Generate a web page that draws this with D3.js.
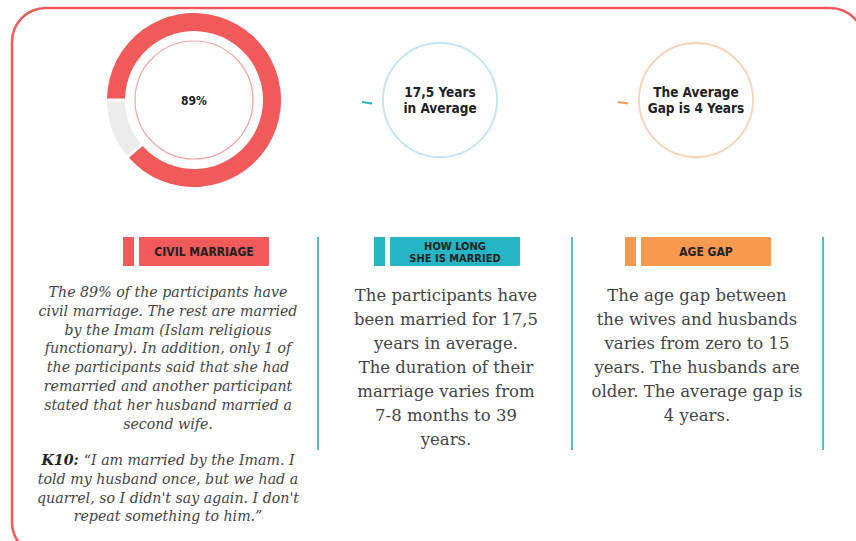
<!DOCTYPE html>
<meta charset="utf-8">
<style>
body { margin: 0; background: #fff; }
.label { font-family: "Liberation Sans Narrow", "DejaVu Sans Condensed", "Roboto", sans-serif; font-weight: bold; fill: #222; font-stretch: condensed; }
.body { font-family: "DejaVu Serif", serif; fill: #444; }
</style>
<svg class="chart" width="856" height="541"></svg>
<script src="https://d3js.org/d3.v7.min.js"></script>
<script>

var svg = d3.select(".chart");

// data
var shares = [89, 11];
var shareColors = ["#f05a5a", "#ebebeb"];
var bubbles = [
  {lines: ["89%"], color: "#f5a3a3"},
  {lines: ["17,5 Years", "in Average"], color: "#bfe6ee", dash: "#2bb3c6"},
  {lines: ["The Average", "Gap is 4 Years"], color: "#f9d2b5", dash: "#f7994f"}
];
var headers = [
  {lines: ["CIVIL MARRIAGE"], color: "#f05a5a"},
  {lines: ["HOW LONG", "SHE IS MARRIED"], color: "#26b5c5"},
  {lines: ["AGE GAP"], color: "#f7994f"}
];
var civilText = [
  "The 89% of the participants have",
  "civil marriage. The rest are married",
  "by the Imam (Islam religious",
  "functionary). In addition, only 1 of",
  "the participants said that she had",
  "remarried and another participant",
  "stated that her husband married a",
  "second wife."
];
var quoteText = [
  "“I am married by the Imam. I",
  "told my husband once, but we had a",
  "quarrel, so I didn't say again. I don't",
  "repeat something to him.”"
];
var durationText = [
  "The participants have",
  "been married for 17,5",
  "years in average.",
  "The duration of their",
  "marriage varies from",
  "7-8 months to 39",
  "years."
];
var gapText = [
  "The age gap between",
  "the wives and husbands",
  "varies from zero to 15",
  "years. The husbands are",
  "older. The average gap is",
  "4 years."
];

// columns
var colX = d3.scaleOrdinal().domain([0, 1, 2]).range([194, 440, 696]);
var headX = d3.scaleOrdinal().domain([0, 1, 2]).range([123, 374, 625]);

// frame
svg.append("rect")
    .attr("x", 12).attr("y", 8)
    .attr("width", 852).attr("height", 548)
    .attr("rx", 34)
    .attr("fill", "none")
    .attr("stroke", "#ef5b5b")
    .attr("stroke-width", 2.5);

// donut
var pie = d3.pie().sort(null).startAngle(-Math.PI / 2).endAngle(Math.PI * 1.5).padAngle(0.025);
var arc = d3.arc().innerRadius(69).outerRadius(87);
svg.append("g")
    .attr("transform", "translate(194,100)")
  .selectAll("path")
  .data(pie(shares))
  .enter().append("path")
    .attr("d", arc)
    .attr("fill", function(d, i) { return shareColors[i]; });

// bubbles
var bub = svg.selectAll(".bubble")
  .data(bubbles)
  .enter().append("g")
    .attr("class", "bubble")
    .attr("transform", function(d, i) { return "translate(" + colX(i) + ",100)"; });

bub.append("circle")
    .attr("r", function(d, i) { return i == 0 ? 59 : 57; })
    .attr("fill", "none")
    .attr("stroke", function(d) { return d.color; })
    .attr("stroke-width", function(d, i) { return i == 0 ? 1.2 : 1.8; });

bub.filter(function(d) { return d.dash; }).append("line")
    .attr("x1", -78).attr("y1", 2)
    .attr("x2", -68).attr("y2", 3.5)
    .attr("stroke", function(d) { return d.dash; })
    .attr("stroke-width", 2);

bub.each(function(d, i) {
  var g = d3.select(this);
  var n = d.lines.length;
  d.lines.forEach(function(t, j) {
    g.append("text")
        .attr("class", "label")
        .attr("text-anchor", "middle")
        .attr("y", (j - (n - 1) / 2) * 16 + 5)
        .style("font-size", i == 0 ? "12px" : "13.5px")
        .text(t);
  });
});

// headers
var hd = svg.selectAll(".header")
  .data(headers)
  .enter().append("g")
    .attr("class", "header")
    .attr("transform", function(d, i) { return "translate(" + headX(i) + ",237)"; });

hd.append("rect").attr("width", 11).attr("height", 29).attr("fill", function(d) { return d.color; });
hd.append("rect").attr("x", 16).attr("width", 130).attr("height", 29).attr("rx", 1)
    .attr("fill", function(d) { return d.color; });
hd.each(function(d) {
  var g = d3.select(this);
  var n = d.lines.length;
  d.lines.forEach(function(t, j) {
    g.append("text")
        .attr("class", "label")
        .attr("text-anchor", "middle")
        .attr("x", 81)
        .attr("y", 19 + (j - (n - 1) / 2) * 12.5)
        .style("font-size", n > 1 ? "11px" : "12px")
        .text(t);
  });
});

// dividers
svg.selectAll(".divider")
  .data([318, 572, 823])
  .enter().append("line")
    .attr("x1", function(d) { return d; }).attr("x2", function(d) { return d; })
    .attr("y1", 237).attr("y2", 450)
    .attr("stroke", "#4fc0cf")
    .attr("stroke-width", 2);

// body text
function block(lines, x, y0, step, size, italic) {
  svg.append("g").selectAll("text")
    .data(lines)
    .enter().append("text")
      .attr("class", "body")
      .attr("text-anchor", "middle")
      .attr("x", x)
      .attr("y", function(d, i) { return y0 + i * step; })
      .style("font-size", size)
      .style("font-style", italic ? "italic" : "normal")
      .text(function(d) { return d; });
}

block(civilText, 168, 297, 18.8, "14.2px", true);
var q = svg.append("g").selectAll("text")
  .data(quoteText)
  .enter().append("text")
    .attr("class", "body")
    .attr("text-anchor", "middle")
    .attr("x", 168)
    .attr("y", function(d, i) { return 465 + i * 18.8; })
    .style("font-size", "14.2px")
    .style("font-style", "italic");
q.filter(function(d, i) { return i == 0; }).append("tspan")
    .style("font-weight", "bold").style("fill", "#222").text("K10: ");
q.append("tspan").text(function(d) { return d; });

block(durationText, 446, 301, 24, "16.5px", false);
block(gapText, 697, 301, 24, "16.5px", false);

</script>
